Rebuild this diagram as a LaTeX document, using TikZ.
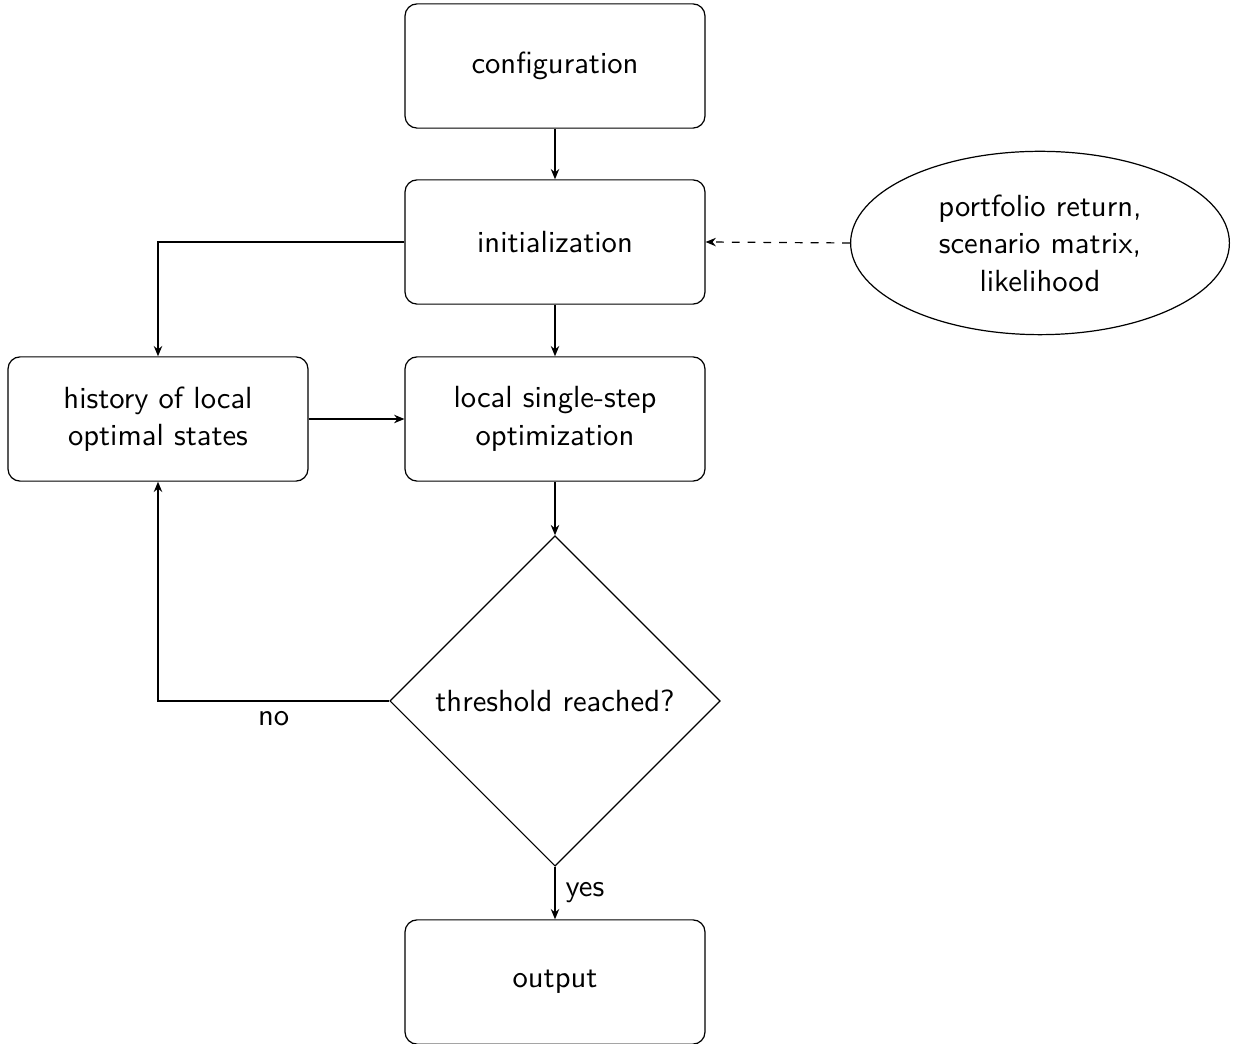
\documentclass[tikz,border=0pt]{standalone}
\usetikzlibrary{shapes.geometric,arrows.meta}
\begin{document}
\begin{tikzpicture}[x=0.33pt,y=-0.33pt,
  font=\sffamily\fontsize{10.1}{12.4}\selectfont,
  box/.style={draw,rounded corners=4pt,minimum width=99pt,minimum height=41pt,align=center,inner sep=2pt},
  decide/.style={draw,diamond,minimum width=109pt,minimum height=109pt,inner sep=0pt,align=center},
  data/.style={draw,ellipse,minimum width=125pt,minimum height=60.5pt,inner sep=0pt,align=center},
  arr/.style={-{Stealth[length=3.4pt,width=2.8pt]}},
  line width=0.4pt]
\useasboundingbox (0,0) rectangle (1233,1044);
\node[box] (conf) at (555,66) {configuration};
\node[box] (init) at (555,242) {initialization};
\node[box] (opt) at (555,419) {local single-step\\optimization};
\node[box] (hist) at (158,419) {history of local\\optimal states};
\node[decide] (thr) at (555,701) {threshold reached?};
\node[box] (out) at (555,982) {output};
\node[data] (inp) at (1040,243) {portfolio return,\\scenario matrix,\\likelihood};
\draw[arr] (conf) -- (init);
\draw[arr] (init) -- (opt);
\draw[arr] (init.west) -| (hist.north);
\draw[arr,dashed,dash pattern=on 2.6pt off 2.6pt] (inp.west) -- (init.east);
\draw[arr] (hist) -- (opt);
\draw[arr] (opt) -- (thr);
\draw[arr] (thr.west) -| node[pos=0.25,below] {no} (hist.south);
\draw[arr] (thr.south) -- node[right] {yes} (out.north);
\end{tikzpicture}
\end{document}
